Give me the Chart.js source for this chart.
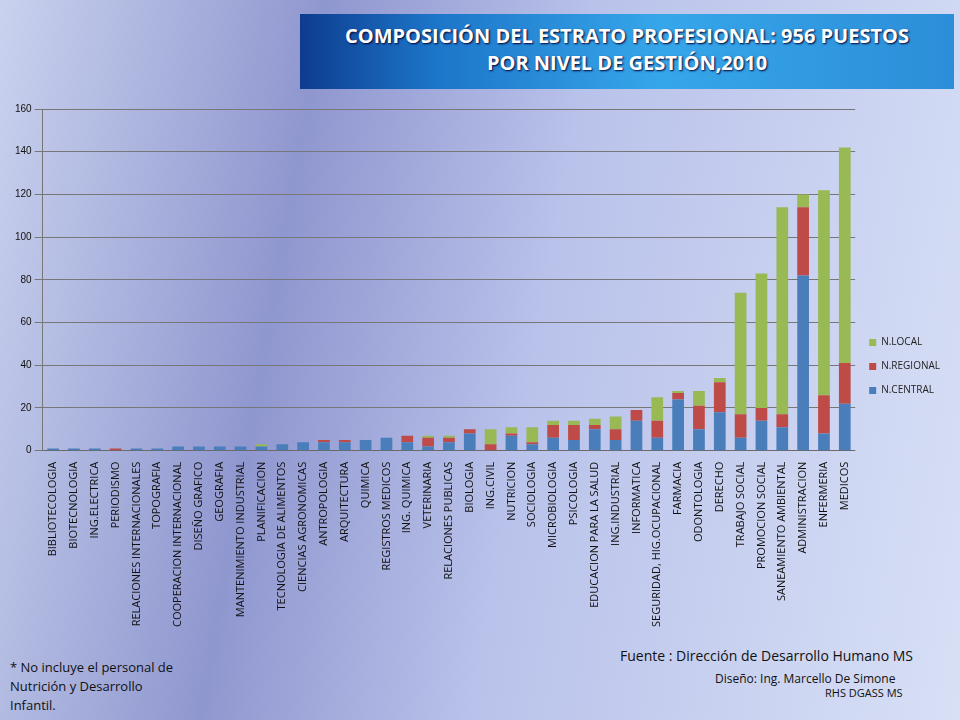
<!DOCTYPE html>
<html><head><meta charset="utf-8">
<script src="https://cdn.jsdelivr.net/npm/chart.js@4"></script>
<style>
body{margin:0;width:960px;height:720px;overflow:hidden;font-family:"Open Sans",sans-serif;
background:linear-gradient(100deg,#c9d2ee 0%,#8f97cf 30%,#b9c2ea 55%,#d8e0f6 100%);position:relative}
#title{position:absolute;left:300px;top:14px;width:654px;height:75px;
background:linear-gradient(90deg,#0d3c8e 0%,#1c74c8 20%,#36a6ea 55%,#2c8ed8 100%);
color:#fff;text-align:center;font-weight:bold;font-size:20px;line-height:27px;padding-top:8px;box-sizing:border-box;text-shadow:1px 1px 2px #003}
#wrap{position:absolute;left:12px;top:100px;width:938px;height:530px}
.t{position:absolute;color:#111;font-size:13px}
</style></head><body>
<div id="title">COMPOSICIÓN DEL ESTRATO PROFESIONAL: 956 PUESTOS<br>POR NIVEL DE GESTIÓN,2010</div>
<div id="wrap"><canvas id="c"></canvas></div>
<div class="t" style="left:10px;top:658px;line-height:19px">* No incluye el personal de<br>Nutrición y Desarrollo<br>Infantil.</div>
<div class="t" style="left:620px;top:646px;font-size:14px">Fuente : Dirección de Desarrollo Humano MS</div>
<div class="t" style="left:715px;top:670px;font-size:12px">Diseño: Ing. Marcello De Simone</div>
<div class="t" style="left:825px;top:685px;font-size:11px">RHS DGASS MS</div>
<script>
const categories=["BIBLIOTECOLOGIA","BIOTECNOLOGIA","ING.ELECTRICA","PERIODISMO","RELACIONES INTERNACIONALES","TOPOGRAFIA","COOPERACION INTERNACIONAL","DISEÑO GRAFICO","GEOGRAFIA","MANTENIMIENTO INDUSTRIAL","PLANIFICACION","TECNOLOGIA DE ALIMENTOS","CIENCIAS AGRONOMICAS","ANTROPOLOGIA","ARQUITECTURA","QUIMICA","REGISTROS MEDICOS","ING. QUIMICA","VETERINARIA","RELACIONES PUBLICAS","BIOLOGIA","ING.CIVIL","NUTRICION","SOCIOLOGIA","MICROBIOLOGIA","PSICOLOGIA","EDUCACION PARA LA SALUD","ING.INDUSTRIAL","INFORMATICA","SEGURIDAD, HIG.OCUPACIONAL","FARMACIA","ODONTOLOGIA","DERECHO","TRABAJO SOCIAL","PROMOCION SOCIAL","SANEAMIENTO AMBIENTAL","ADMINISTRACION","ENFERMERIA","MEDICOS"];
const central=[1,1,1,0,1,1,2,2,2,2,2,3,4,4,4,5,6,4,2,4,8,0,7,3,6,5,10,5,14,6,24,10,18,6,14,11,82,8,22];
const regional=[0,0,0,1,0,0,0,0,0,0,0,0,0,1,1,0,0,3,4,2,2,3,1,1,6,7,2,5,5,8,3,11,14,11,6,6,32,18,19];
const local=[0,0,0,0,0,0,0,0,0,0,1,0,0,0,0,0,0,0,1,1,0,7,3,7,2,2,3,6,0,11,1,7,2,57,63,97,6,96,101];
const yTicks=[0,20,40,60,80,100,120,140,160];
new Chart(document.getElementById('c'),{type:'bar',
data:{labels:categories,datasets:[
{label:'N.CENTRAL',data:central,backgroundColor:'#4a7ebb'},
{label:'N.REGIONAL',data:regional,backgroundColor:'#be4b48'},
{label:'N.LOCAL',data:local,backgroundColor:'#98b954'}]},
options:{responsive:true,maintainAspectRatio:false,animation:false,
layout:{padding:{left:0,right:0,top:3}},
datasets:{bar:{categoryPercentage:0.75,barPercentage:0.75}},
plugins:{legend:{position:'right',reverse:true,labels:{boxWidth:7,boxHeight:7,font:{size:10,family:'Open Sans'},color:'#222',padding:14}}},
scales:{x:{stacked:true,grid:{display:false},ticks:{autoSkip:false,maxRotation:90,minRotation:90,font:{size:11,family:'Open Sans'},color:'#111'}},
y:{stacked:true,min:0,max:160,afterBuildTicks:a=>{a.ticks=yTicks.map(v=>({value:v}))},grid:{color:'#777'},border:{display:true,color:'#777'},ticks:{font:{size:10},color:'#111'}}}}});
</script></body></html>
